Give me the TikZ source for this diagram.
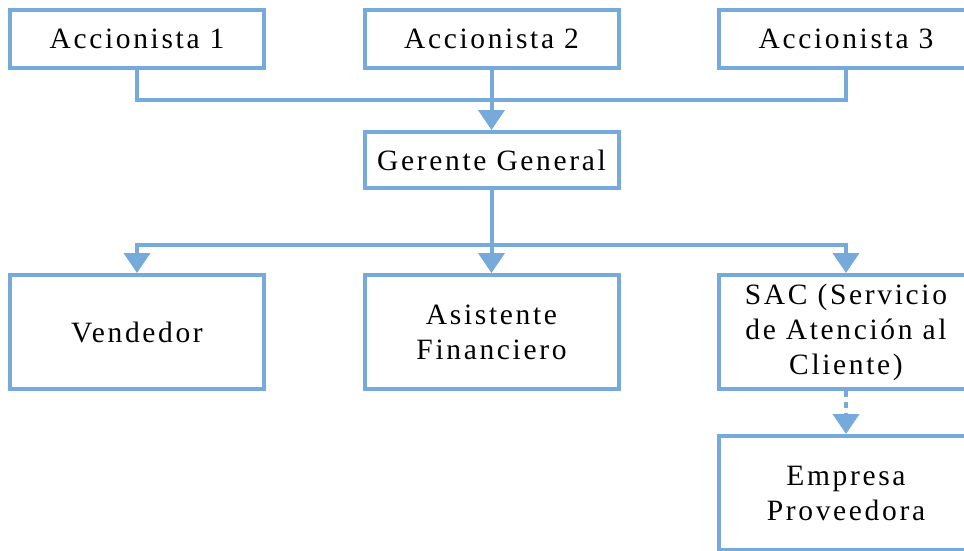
\documentclass[tikz,border=0pt]{standalone}
\usepackage{fontspec}
\setmainfont{Liberation Serif}[LetterSpace=9]
\usetikzlibrary{arrows.meta}
\definecolor{lblue}{RGB}{117,170,219}
\begin{document}
\begin{tikzpicture}[x=1pt,y=-1pt,
  box/.style={draw=lblue,line width=4pt,fill=white,minimum width=254pt,inner sep=0pt,align=center,
    font=\fontsize{29.5}{35}\selectfont},
  conn/.style={draw=lblue,line width=4pt},
  arr/.style={conn,-{Triangle[width=26pt,length=20pt]}}]
\useasboundingbox (0,0) rectangle (964,550);
\clip (0,0) rectangle (964,550);
\node[box,minimum height=58pt] (a1) at (137,39) {Accionista 1};
\node[box,minimum height=58pt] (a2) at (491.5,39) {Accionista 2};
\node[box,minimum height=58pt] (a3) at (846,39) {Accionista 3};
\node[box,minimum height=56pt] (ger) at (491.5,160) {Gerente General};
\node[box,minimum height=114pt] (ven) at (137,332) {Vendedor};
\node[box,minimum height=114pt] (asi) at (491.5,332) {Asistente\\Financiero};
\node[box,minimum height=114pt] (sac) at (846,332) {SAC (Servicio\\de Atención al\\Cliente)};
\node[box,minimum height=114pt] (emp) at (846,493) {Empresa\\Proveedora};
\coordinate (j1) at (491.5,100);
\coordinate (j2) at (491.5,245);
\draw[conn] (a1.south) |- (j1);
\draw[conn] (a3.south) |- (j1);
\draw[arr] (a2.south) -- (ger.north);
\draw[arr] (ger.south) -- (asi.north);
\draw[arr] (j2) -| (ven.north);
\draw[arr] (j2) -| (sac.north);
\draw[arr,dash pattern=on 6pt off 5pt] (sac.south) -- (emp.north);
\end{tikzpicture}
\end{document}
